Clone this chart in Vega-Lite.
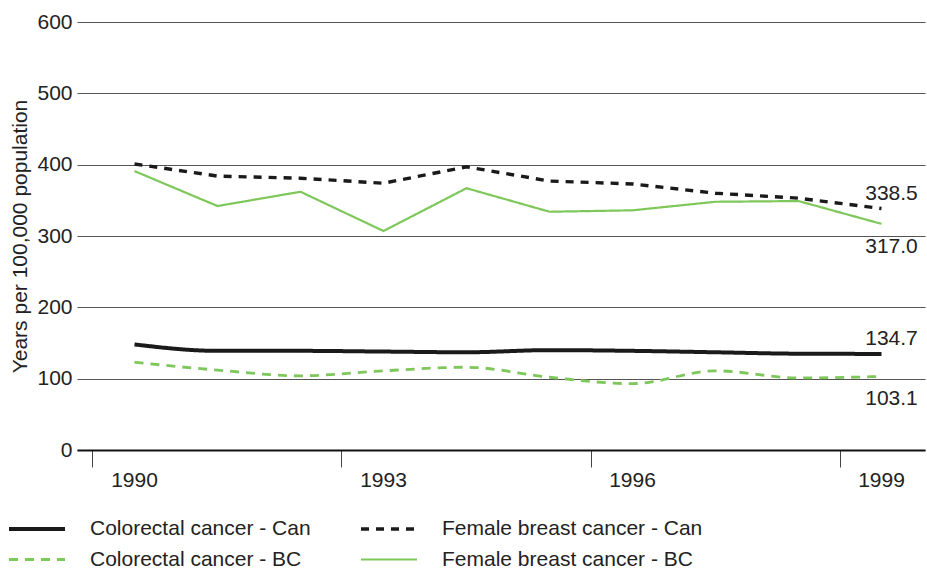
{
  "$schema": "https://vega.github.io/schema/vega-lite/v6.json",
  "width": 848,
  "height": 428,
  "autosize": {"type": "none"},
  "padding": {"left": 77, "top": 22, "right": 2, "bottom": 122},
  "config": {
    "font": "Liberation Sans",
    "view": {"stroke": null},
    "legend": {
      "orient": "none",
      "legendX": -70,
      "legendY": 491,
      "columns": 2,
      "direction": "horizontal",
      "symbolType": "M-1,0H3",
      "symbolSize": 784,
      "labelFontSize": 21,
      "labelColor": "#222222",
      "labelOffset": 51,
      "columnPadding": 43,
      "rowPadding": 5,
      "labelLimit": 400
    }
  },
  "data": {
    "values": [
      {"year": 1990, "series": "Colorectal cancer - Can", "value": 148},
      {"year": 1991, "series": "Colorectal cancer - Can", "value": 139},
      {"year": 1992, "series": "Colorectal cancer - Can", "value": 139},
      {"year": 1993, "series": "Colorectal cancer - Can", "value": 138},
      {"year": 1994, "series": "Colorectal cancer - Can", "value": 137},
      {"year": 1995, "series": "Colorectal cancer - Can", "value": 140},
      {"year": 1996, "series": "Colorectal cancer - Can", "value": 139},
      {"year": 1997, "series": "Colorectal cancer - Can", "value": 137},
      {"year": 1998, "series": "Colorectal cancer - Can", "value": 135},
      {"year": 1999, "series": "Colorectal cancer - Can", "value": 134.7},
      {"year": 1990, "series": "Colorectal cancer - BC", "value": 123},
      {"year": 1991, "series": "Colorectal cancer - BC", "value": 112},
      {"year": 1992, "series": "Colorectal cancer - BC", "value": 104},
      {"year": 1993, "series": "Colorectal cancer - BC", "value": 111},
      {"year": 1994, "series": "Colorectal cancer - BC", "value": 116},
      {"year": 1995, "series": "Colorectal cancer - BC", "value": 102},
      {"year": 1996, "series": "Colorectal cancer - BC", "value": 93},
      {"year": 1997, "series": "Colorectal cancer - BC", "value": 111},
      {"year": 1998, "series": "Colorectal cancer - BC", "value": 101},
      {"year": 1999, "series": "Colorectal cancer - BC", "value": 103.1},
      {"year": 1990, "series": "Female breast cancer - Can", "value": 401},
      {"year": 1991, "series": "Female breast cancer - Can", "value": 384},
      {"year": 1992, "series": "Female breast cancer - Can", "value": 381},
      {"year": 1993, "series": "Female breast cancer - Can", "value": 374},
      {"year": 1994, "series": "Female breast cancer - Can", "value": 397},
      {"year": 1995, "series": "Female breast cancer - Can", "value": 377},
      {"year": 1996, "series": "Female breast cancer - Can", "value": 373},
      {"year": 1997, "series": "Female breast cancer - Can", "value": 360},
      {"year": 1998, "series": "Female breast cancer - Can", "value": 353},
      {"year": 1999, "series": "Female breast cancer - Can", "value": 338.5},
      {"year": 1990, "series": "Female breast cancer - BC", "value": 391},
      {"year": 1991, "series": "Female breast cancer - BC", "value": 342},
      {"year": 1992, "series": "Female breast cancer - BC", "value": 362},
      {"year": 1993, "series": "Female breast cancer - BC", "value": 307},
      {"year": 1994, "series": "Female breast cancer - BC", "value": 367},
      {"year": 1995, "series": "Female breast cancer - BC", "value": 334},
      {"year": 1996, "series": "Female breast cancer - BC", "value": 336},
      {"year": 1997, "series": "Female breast cancer - BC", "value": 348},
      {"year": 1998, "series": "Female breast cancer - BC", "value": 349},
      {"year": 1999, "series": "Female breast cancer - BC", "value": 317.0}
    ]
  },
  "encoding": {
    "x": {
      "field": "year",
      "type": "ordinal",
      "scale": {"type": "band", "paddingInner": 0, "paddingOuter": 0.10843, "align": 0.8889},
      "axis": {
        "title": null,
        "values": [1990, 1993, 1996, 1999],
        "labelAngle": 0,
        "labelFontSize": 21,
        "labelColor": "#222222",
        "labelPadding": 2,
        "tickSize": 17,
        "tickColor": "#444444",
        "tickWidth": 1,
        "bandPosition": 0,
        "domainColor": "#111111",
        "domainWidth": 2
      }
    },
    "y": {
      "field": "value",
      "type": "quantitative",
      "scale": {"domain": [0, 600], "nice": false},
      "axis": {
        "title": "Years per 100,000 population",
        "titleFontSize": 21,
        "titleFontWeight": "normal",
        "titleColor": "#222222",
        "titlePadding": 6,
        "values": [0, 100, 200, 300, 400, 500, 600],
        "labelFontSize": 21,
        "labelColor": "#222222",
        "labelPadding": 5,
        "ticks": false,
        "domain": false,
        "grid": true,
        "gridColor": "#555555",
        "gridWidth": 1
      }
    }
  },
  "layer": [
    {
      "transform": [{"filter": "indexof(datum.series, 'Colorectal') == 0"}],
      "mark": {"type": "line", "interpolate": "monotone"},
      "encoding": {
        "color": {"field": "series", "type": "nominal", "title": null,
          "scale": {"domain": ["Colorectal cancer - Can", "Female breast cancer - Can", "Colorectal cancer - BC", "Female breast cancer - BC"],
                    "range": ["#1a1a1a", "#1a1a1a", "#7ec75a", "#7ec75a"]}},
        "strokeDash": {"field": "series", "type": "nominal", "title": null,
          "scale": {"domain": ["Colorectal cancer - Can", "Female breast cancer - Can", "Colorectal cancer - BC", "Female breast cancer - BC"],
                    "range": [[1, 0], [8, 7], [9, 7], [1, 0]]}},
        "strokeWidth": {"field": "series", "type": "nominal", "title": null,
          "scale": {"domain": ["Colorectal cancer - Can", "Female breast cancer - Can", "Colorectal cancer - BC", "Female breast cancer - BC"],
                    "range": [4, 2.2, 4.5, 2.4]}}
      }
    },
    {
      "transform": [{"filter": "indexof(datum.series, 'Female') == 0"}],
      "mark": {"type": "line", "interpolate": "linear"},
      "encoding": {
        "color": {"field": "series", "type": "nominal", "title": null},
        "strokeDash": {"field": "series", "type": "nominal", "title": null},
        "strokeWidth": {"field": "series", "type": "nominal", "title": null}
      }
    },
    {
      "transform": [{"filter": "datum.year == 1999 && indexof(datum.series, ' - Can') > 0"}],
      "mark": {"type": "text", "dx": 10, "dy": -15, "fontSize": 21, "color": "#222222", "align": "center", "baseline": "middle"},
      "encoding": {"text": {"field": "value", "type": "quantitative", "format": ".1f"}}
    },
    {
      "transform": [{"filter": "datum.year == 1999 && indexof(datum.series, ' - BC') > 0"}],
      "mark": {"type": "text", "dx": 10, "dy": 23, "fontSize": 21, "color": "#222222", "align": "center", "baseline": "middle"},
      "encoding": {"text": {"field": "value", "type": "quantitative", "format": ".1f"}}
    }
  ]
}
